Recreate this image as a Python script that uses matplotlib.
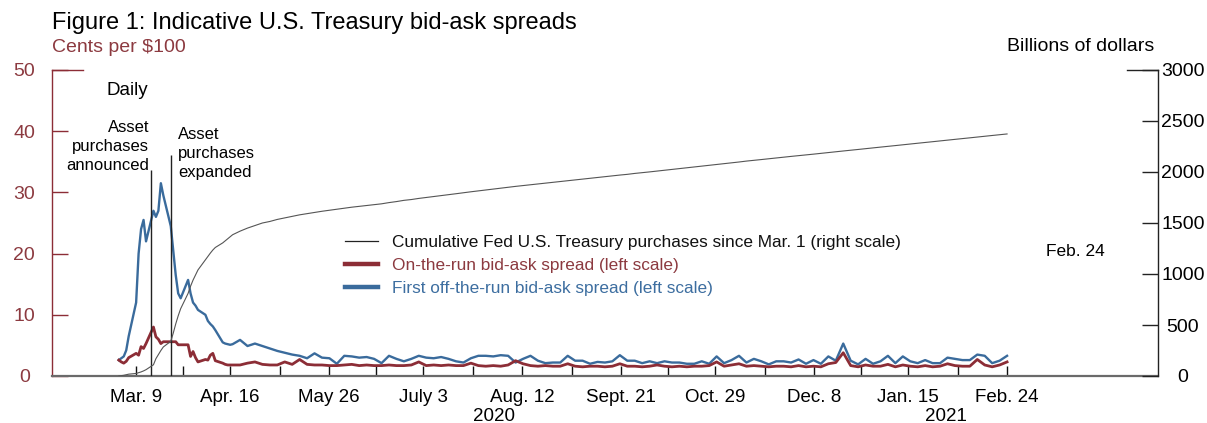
import numpy as np
import pandas as pd
import matplotlib.pyplot as plt
from matplotlib.lines import Line2D

plt.rcParams.update({
    "font.family": ["Liberation Sans", "DejaVu Sans"],
    "font.size": 13,
})

RED = "#8c2d36"
RED_TXT = "#8c3a40"
BLUE = "#3a6b9c"
BLUE_TXT = "#3d6ea0"
GREY = "#555555"

# Dates: daily business days early on, then roughly every 3 days
dates_early = pd.bdate_range("2020-03-02", "2020-04-17")
dates_late = pd.date_range("2020-04-20", "2021-02-24", periods=104)

# First off-the-run bid-ask spread (cents per $100)
off_run_early = [2.6, 2.9, 3.2, 4.2, 6.5, 12.0, 20.0, 24.0, 25.5, 22.0,
                 27.0, 26.0, 27.0, 31.5, 29.5, 24.5, 20.5, 16.5, 13.5, 12.7,
                 15.7, 13.5, 12.0, 11.5, 10.8, 10.0, 9.0, 8.5, 8.1, 7.5,
                 5.5, 5.3, 5.2, 5.1, 5.2]
off_run_late = [5.9, 4.9, 5.3, 4.9, 4.5, 4.1, 3.8, 3.5, 3.3, 2.9,
                3.7, 3.0, 2.9, 2.0, 3.3, 3.2, 3.0, 3.1, 2.8, 2.1,
                3.3, 2.8, 2.4, 2.8, 3.3, 3.0, 2.9, 3.1, 2.8, 2.4,
                2.2, 2.9, 3.3, 3.3, 3.2, 3.4, 3.3, 2.2, 2.8, 3.3,
                2.5, 2.1, 2.2, 2.2, 3.3, 2.5, 2.5, 2.0, 2.3, 2.2,
                2.4, 3.4, 2.5, 2.5, 2.1, 2.4, 2.1, 2.4, 2.2, 2.2,
                2.0, 2.0, 2.4, 2.0, 3.2, 2.1, 2.6, 3.3, 2.2, 2.8,
                2.4, 1.9, 2.4, 2.4, 2.2, 2.7, 2.0, 2.6, 2.0, 3.2,
                2.5, 5.3, 2.5, 1.9, 2.8, 2.0, 2.4, 3.3, 2.1, 3.2,
                2.4, 2.1, 2.6, 2.1, 2.1, 3.0, 2.8, 2.6, 2.6, 3.5,
                3.3, 2.1, 2.5, 3.3]

# On-the-run bid-ask spread (cents per $100)
on_run_early = [2.6, 2.3, 2.1, 2.4, 3.0, 3.7, 3.4, 4.8, 4.5, 5.3,
                8.0, 6.4, 6.0, 5.3, 5.6, 5.6, 5.6, 5.6, 5.1, 5.1,
                5.1, 3.2, 4.0, 3.0, 2.3, 2.7, 2.6, 3.4, 3.7, 2.5,
                2.1, 1.9, 1.8, 1.8, 1.8]
on_run_late = [1.8, 2.1, 2.3, 1.9, 1.8, 1.8, 2.3, 1.9, 2.7, 1.9,
               1.8, 1.8, 1.7, 1.7, 1.8, 1.9, 1.7, 1.8, 1.7, 1.7,
               1.8, 1.7, 1.7, 1.8, 2.3, 1.7, 1.8, 1.7, 1.8, 1.7,
               1.7, 2.1, 1.7, 1.6, 1.7, 1.6, 1.8, 2.5, 2.0, 1.7,
               1.6, 1.7, 1.6, 1.6, 2.0, 1.6, 1.5, 1.6, 1.6, 1.5,
               1.6, 2.0, 1.6, 1.6, 1.5, 1.6, 1.8, 1.6, 1.5, 1.6,
               1.5, 1.6, 1.6, 1.7, 2.3, 1.6, 1.8, 2.0, 1.6, 1.7,
               1.6, 1.5, 1.6, 1.6, 1.5, 1.7, 1.5, 1.6, 1.5, 2.0,
               2.2, 3.8, 1.7, 1.5, 1.8, 1.6, 1.6, 1.9, 1.5, 1.8,
               1.6, 1.5, 1.7, 1.5, 1.6, 2.0, 1.7, 1.6, 1.6, 2.7,
               1.8, 1.5, 1.8, 2.3]

# Cumulative Fed U.S. Treasury purchases since Mar. 1 (billions of dollars)
cum_early = [0, 3, 7, 12, 18, 25, 32, 40, 50, 62,
             110, 170, 210, 250, 285, 340, 420, 510, 590, 660,
             810, 880, 940, 990, 1040, 1140, 1175, 1205, 1235, 1260,
             1305, 1325, 1345, 1365, 1385]
cum_late = [1420, 1450, 1475, 1500, 1515, 1535, 1550, 1565, 1580, 1592,
            1605, 1615, 1625, 1635, 1645, 1655, 1663, 1672, 1680, 1688,
            1700, 1710, 1722, 1730, 1741, 1750, 1760, 1768, 1778, 1787,
            1797, 1806, 1815, 1824, 1833, 1843, 1851, 1859, 1867, 1875,
            1884, 1891, 1900, 1907, 1915, 1923, 1932, 1938, 1946, 1954,
            1962, 1970, 1977, 1986, 1993, 2001, 2009, 2017, 2024, 2032,
            2041, 2048, 2056, 2064, 2073, 2081, 2090, 2098, 2107, 2114,
            2122, 2130, 2137, 2145, 2153, 2160, 2168, 2175, 2183, 2191,
            2198, 2206, 2213, 2221, 2229, 2236, 2244, 2251, 2259, 2267,
            2274, 2282, 2289, 2297, 2305, 2312, 2320, 2327, 2335, 2343,
            2350, 2358, 2365, 2373]

dates = dates_early.append(dates_late)
off_run = np.array(off_run_early + off_run_late)
on_run = np.array(on_run_early + on_run_late)
cum = np.array(cum_early + cum_late)

tick_dates = pd.to_datetime(["2020-03-09", "2020-04-16", "2020-05-26", "2020-07-03",
                             "2020-08-12", "2020-09-21", "2020-10-29", "2020-12-08",
                             "2021-01-15", "2021-02-24"])
tick_labels = ["Mar. 9", "Apr. 16", "May 26", "July 3", "Aug. 12",
               "Sept. 21", "Oct. 29", "Dec. 8", "Jan. 15", "Feb. 24"]
minor_dates = pd.to_datetime(["2020-03-28", "2020-05-06", "2020-06-14", "2020-07-23",
                              "2020-09-01", "2020-10-10", "2020-11-18", "2020-12-27",
                              "2021-02-04"])

events = pd.to_datetime(["2020-03-15", "2020-03-23"])
event_tops = [33.7, 36.1]

W, H = 1207, 423
fig = plt.figure(figsize=(W / 100, H / 100), dpi=100)
ax = fig.add_axes([52 / W, 1 - 376 / H, (1158 - 52) / W, (376 - 70) / H])
ax2 = ax.twinx()

ax.plot(dates, off_run, color=BLUE, lw=1.7, zorder=3)
ax.plot(dates, on_run, color=RED, lw=2.0, zorder=4)
ax.vlines(events, 0, event_tops, color="#222222", lw=1.0, zorder=5)
ax2.plot(dates, cum, color=GREY, lw=0.8)

ax.set_xlim(pd.Timestamp("2020-02-04"), pd.Timestamp("2021-04-26"))
ax.set_ylim(0, 50)
ax2.set_ylim(0, 3000)

ax.set_xticks(tick_dates)
ax.set_xticklabels(tick_labels)
ax.set_xticks(minor_dates, minor=True)
ax.tick_params(axis="x", which="both", direction="in", length=7.2, width=1.0,
               color="#111111", labelsize=13.5, pad=9)

ax.set_yticks(np.arange(0, 51, 10))
ax.tick_params(axis="y", direction="in", length=11.5, width=1.0, color=RED,
               labelcolor=RED_TXT, labelsize=14, pad=20)
for t in ax.get_yticklabels():
    t.set_horizontalalignment("center")

ax2.set_yticks(np.arange(0, 3001, 500))
ax2.tick_params(axis="y", direction="in", length=11.5, width=1.0, color="#222222",
                labelsize=14, pad=18)
for t in ax2.get_yticklabels():
    t.set_horizontalalignment("center")

for a in (ax, ax2):
    a.spines["top"].set_visible(False)
ax.spines["left"].set_color(RED)
ax.spines["left"].set_linewidth(1.0)
ax2.spines["left"].set_visible(False)
ax2.spines["right"].set_color("#222222")
ax2.spines["right"].set_linewidth(1.0)
ax2.spines["bottom"].set_visible(False)
ax.spines["right"].set_visible(False)
ax.spines["bottom"].set_color("#6a6a6a")
ax.spines["bottom"].set_linewidth(1.6)

# longer top ticks
frac = 31 / (1158 - 52)
ax.plot([0, frac], [1, 1], transform=ax.transAxes, color=RED, lw=1.0, clip_on=False)
ax2.plot([1 - frac, 1], [1, 1], transform=ax2.transAxes, color="#222222", lw=1.0,
         clip_on=False)

# texts
fig.text(52 / W, 1 - 28.5 / H, "Figure 1: Indicative U.S. Treasury bid-ask spreads",
         fontsize=17, va="baseline", ha="left")
fig.text(52 / W, 1 - 51.5 / H, "Cents per $100", fontsize=14, color=RED_TXT,
         va="baseline", ha="left")
fig.text(1154 / W, 1 - 51 / H, "Billions of dollars", fontsize=14,
         va="baseline", ha="right")
fig.text(106 / W, 1 - 95 / H, "Daily", fontsize=13.5, va="baseline", ha="left")
fig.text(149 / W, 1 - 120 / H, "Asset\npurchases\nannounced", fontsize=12,
         va="top", ha="right", multialignment="right", linespacing=1.32)
fig.text(178 / W, 1 - 127 / H, "Asset\npurchases\nexpanded", fontsize=12,
         va="top", ha="left", multialignment="left", linespacing=1.32)
fig.text(1075 / W, 1 - 252 / H, "Feb. 24", fontsize=12.5, va="center", ha="center")
fig.text(494 / W, 1 - 421 / H, "2020", fontsize=13.5, va="baseline", ha="center")
fig.text(946 / W, 1 - 421 / H, "2021", fontsize=13.5, va="baseline", ha="center")

handles = [Line2D([], [], color="#222222", lw=0.9),
           Line2D([], [], color=RED, lw=3.2),
           Line2D([], [], color=BLUE, lw=3.2)]
labels = ["Cumulative Fed U.S. Treasury purchases since Mar. 1 (right scale)",
          "On-the-run bid-ask spread (left scale)",
          "First off-the-run bid-ask spread (left scale)"]
leg = ax2.legend(handles, labels, loc="upper left",
                 bbox_to_anchor=(345 / W, 1 - 235 / H), bbox_transform=fig.transFigure,
                 frameon=False, fontsize=12.4, handlelength=1.9, handletextpad=0.85,
                 labelspacing=0.45, borderpad=0, borderaxespad=0)
for txt, c in zip(leg.get_texts(), ["#111111", RED_TXT, BLUE_TXT]):
    txt.set_color(c)

fig.savefig("out.png", dpi=100)
